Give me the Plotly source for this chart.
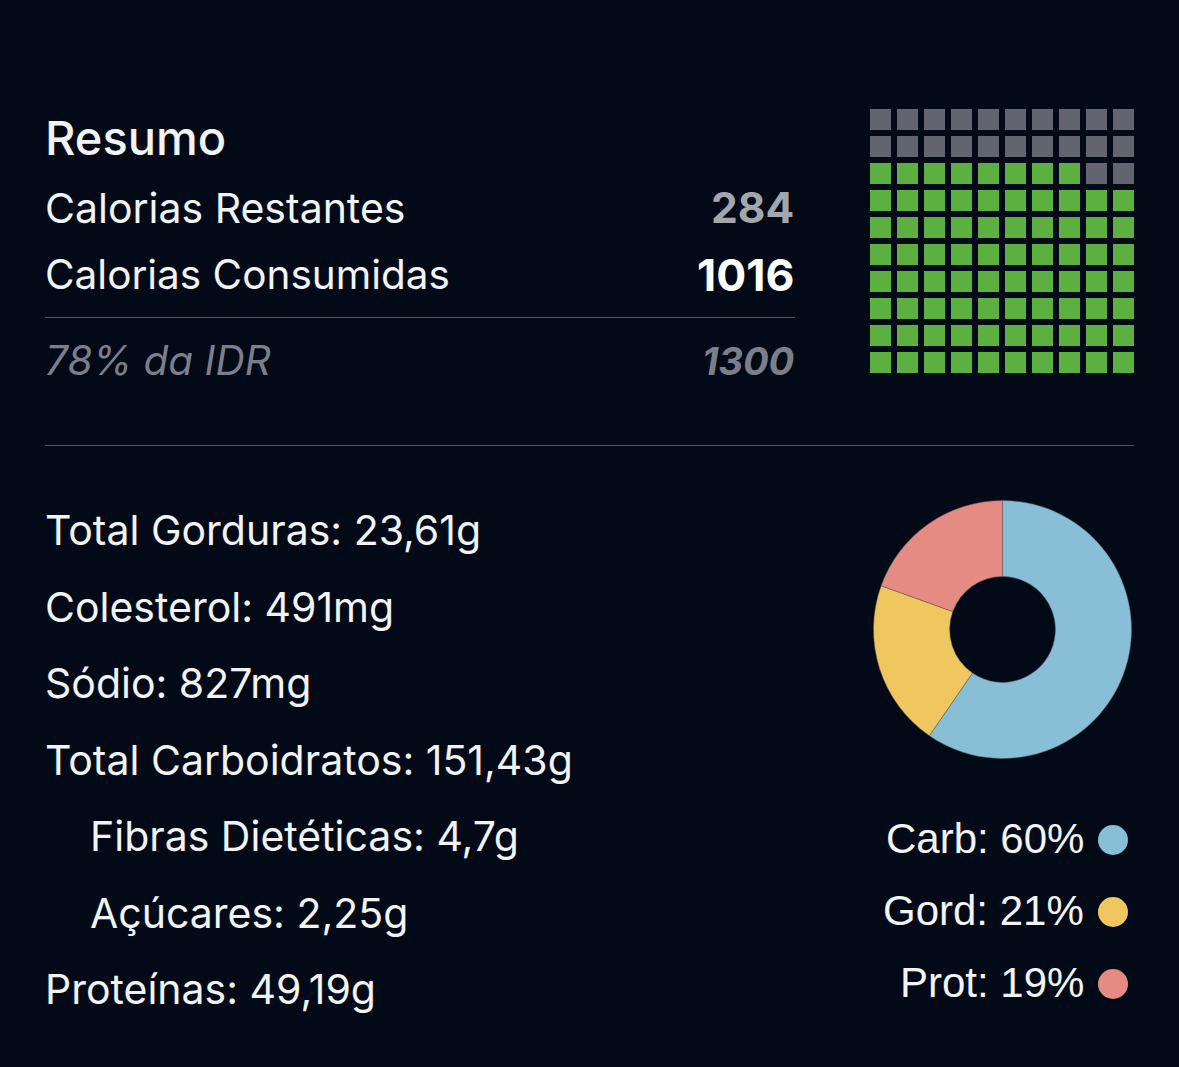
import plotly.graph_objects as go

W, H = 1179, 1067
BG = "#020a17"
FONT = "Inter"

macro_labels = ["Carb", "Gord", "Prot"]
macro_values = [59.6, 20.9, 19.5]
macro_pct = [60, 21, 19]
macro_colors = ["#89bfd6", "#f0c75e", "#e58b84"]

# quadradinhos verdes por linha, de cima para baixo
waffle_green = [0, 0, 8, 10, 10, 10, 10, 10, 10, 10]

nutrients = ["Total Gorduras: 23,61g", "Colesterol: 491mg", "Sódio: 827mg", "Total Carboidratos: 151,43g",
             "Fibras Dietéticas: 4,7g", "Açúcares: 2,25g", "Proteínas: 49,19g"]
nutrient_y = [530, 607, 683, 760, 836, 913, 989]
nutrient_x = [44, 44, 44, 44, 89, 89, 44]


def px(x):
    return x / W


def py(y):
    return 1 - y / H


def label(x, y, text, size=41, color="#f2f3f5", anchor="left", weight=400, style="normal", family=FONT):
    return dict(x=px(x), y=py(y), xref="paper", yref="paper", text=text, showarrow=False,
                xanchor=anchor, yanchor="middle", borderpad=0,
                font=dict(family=family, size=size, color=color, weight=weight, style=style))


z = [[1 if c < g else 0 for c in range(10)] for g in waffle_green]

fig = go.Figure()
fig.add_trace(go.Heatmap(
    z=z, xgap=6, ygap=6, showscale=False, hoverinfo="skip", zmin=0, zmax=1,
    colorscale=[[0, "#62656f"], [1, "#5bb03f"]],
    xaxis="x", yaxis="y",
))
fig.add_trace(go.Pie(
    labels=macro_labels, values=macro_values, hole=0.41, sort=False, direction="clockwise",
    rotation=0, textinfo="none", showlegend=False,
    marker=dict(colors=macro_colors, line=dict(color="#5a5a5a", width=0.5)),
    domain=dict(x=[px(873.5), px(1131.5)], y=[py(759), py(500)]),
))
fig.add_trace(go.Scatter(
    x=[0, 0, 0], y=macro_labels, mode="markers", showlegend=False, hoverinfo="skip",
    marker=dict(size=30, color=macro_colors, line=dict(width=0)),
    xaxis="x2", yaxis="y2",
))

annotations = [
    label(44, 137.5, "Resumo", size=47, weight=500),
    label(44, 208, "Calorias Restantes"),
    label(44, 275, "Calorias Consumidas", size=40.5),
    label(795, 208, "284", size=42.5, color="#a4a6ae", anchor="right", weight=700),
    label(795, 275, "1016", size=44.5, color="#ffffff", anchor="right", weight=700),
    label(44, 360, "78% da IDR", size=40.5, color="#7c7f8b", style="italic"),
    label(796, 360.5, "1300", size=38, color="#7c7f8b", anchor="right", weight=700, style="italic"),
]
for x, y, t in zip(nutrient_x, nutrient_y, nutrients):
    annotations.append(label(x, y, t))
for y, name, v in zip([838, 910, 982], macro_labels, macro_pct):
    annotations.append(label(1085, y, f"{name}: {v}%", size=42, anchor="right", family="Liberation Sans"))

fig.update_layout(
    width=W, height=H, margin=dict(l=0, r=0, t=0, b=0),
    paper_bgcolor=BG, plot_bgcolor=BG,
    annotations=annotations,
    xaxis=dict(domain=[px(867), px(1137)], range=[-0.5, 9.5], visible=False, fixedrange=True),
    yaxis=dict(domain=[py(376), py(106)], range=[9.5, -0.5], visible=False, fixedrange=True),
    xaxis2=dict(domain=[px(1083), px(1143)], range=[-1, 1], visible=False, anchor="y2", fixedrange=True),
    yaxis2=dict(domain=[py(1020), py(804)], type="category", categoryorder="array", categoryarray=macro_labels,
                range=[2.5, -0.5], visible=False, anchor="x2", fixedrange=True),
    shapes=[
        dict(type="line", xref="paper", yref="paper", x0=px(45), x1=px(795), y0=py(317.5), y1=py(317.5),
             line=dict(color="#50545f", width=1)),
        dict(type="line", xref="paper", yref="paper", x0=px(45), x1=px(1134), y0=py(445.5), y1=py(445.5),
             line=dict(color="#50545f", width=1)),
    ],
)

fig.write_html("out.html", config={"displayModeBar": False}, post_script="document.body.style.margin='0';")
